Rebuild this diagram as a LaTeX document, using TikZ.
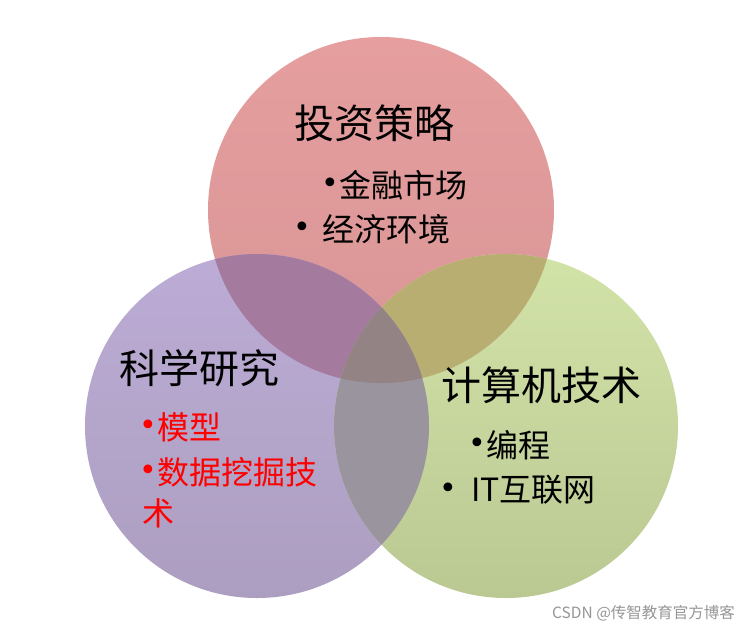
\documentclass[tikz,border=0pt]{standalone}
\usepackage{fontspec}
\newfontfamily\cjk{Noto Sans CJK SC}
\newfontfamily\dejavu{DejaVu Sans}
\definecolor{redT}{RGB}{230,158,158}
\definecolor{redB}{RGB}{216,149,150}
\definecolor{purT}{RGB}{188,172,214}
\definecolor{purB}{RGB}{172,158,192}
\definecolor{grnT}{RGB}{210,227,168}
\definecolor{grnB}{RGB}{186,200,146}
\definecolor{rpC}{RGB}{164,122,158}
\definecolor{rgC}{RGB}{184,174,114}
\definecolor{pgC}{RGB}{154,148,158}
\definecolor{allC}{RGB}{147,131,133}
\definecolor{wm}{RGB}{150,150,150}
\tikzset{
  title/.style={anchor=west, inner sep=0pt, font=\cjk\fontsize{40}{40}\selectfont},
  item/.style={anchor=west, inner sep=0pt, font=\cjk\fontsize{32}{32}\selectfont},
  bul/.style={anchor=center, inner sep=0pt, font=\dejavu\fontsize{30}{30}\selectfont},
}
\begin{document}
\begin{tikzpicture}[x=1pt,y=-1pt]
\useasboundingbox (0,0) rectangle (754,629);
\fill[white] (0,0) rectangle (754,629);
\coordinate (cR) at (381,210);
\coordinate (cP) at (257,426);
\coordinate (cG) at (506,426);
% single circles
\shade[top color=redT, bottom color=redB] (cR) circle (173pt);
\shade[top color=purT, bottom color=purB] (cP) circle (172pt);
\shade[top color=grnT, bottom color=grnB] (cG) circle (172pt);
% pairwise overlaps
\begin{scope}
  \clip (cR) circle (173pt);
  \fill[rpC] (cP) circle (172pt);
  \fill[rgC] (cG) circle (172pt);
\end{scope}
\begin{scope}
  \clip (cP) circle (172pt);
  \fill[pgC] (cG) circle (172pt);
\end{scope}
\begin{scope}
  \clip (cR) circle (173pt);
  \clip (cP) circle (172pt);
  \fill[allC] (cG) circle (172pt);
\end{scope}
% top circle text
\node[title] (t1) at (294,123) {投资策略};
\node[bul] (b11) at (330,186) {•};
\node[item] (i11) at (339,185) {金融市场};
\node[bul] (b12) at (302,230) {•};
\node[item] (i12) at (322,229) {经济环境};
% left circle text
\node[title] (t2) at (119,368) {科学研究};
\node[bul, text=red] (b21) at (148,428) {•};
\node[item, text=red] (i21) at (157,427) {模型};
\node[bul, text=red] (b22) at (148,473) {•};
\node[item, text=red] (i22) at (157,472) {数据挖掘技};
\node[item, text=red] (i23) at (142,513) {术};
% right circle text
\node[title] (t3) at (441,385) {计算机技术};
\node[bul] (b31) at (477,446) {•};
\node[item] (i31) at (486,445) {编程};
\node[bul] (b32) at (448,491) {•};
\node[item] (i32) at (471,490) {IT互联网};
% watermark
\node[anchor=west, inner sep=0pt, text=wm, font=\cjk\fontsize{15.5}{15.5}\selectfont] (wmk) at (552,613) {CSDN @传智教育官方博客};
\end{tikzpicture}
\end{document}
